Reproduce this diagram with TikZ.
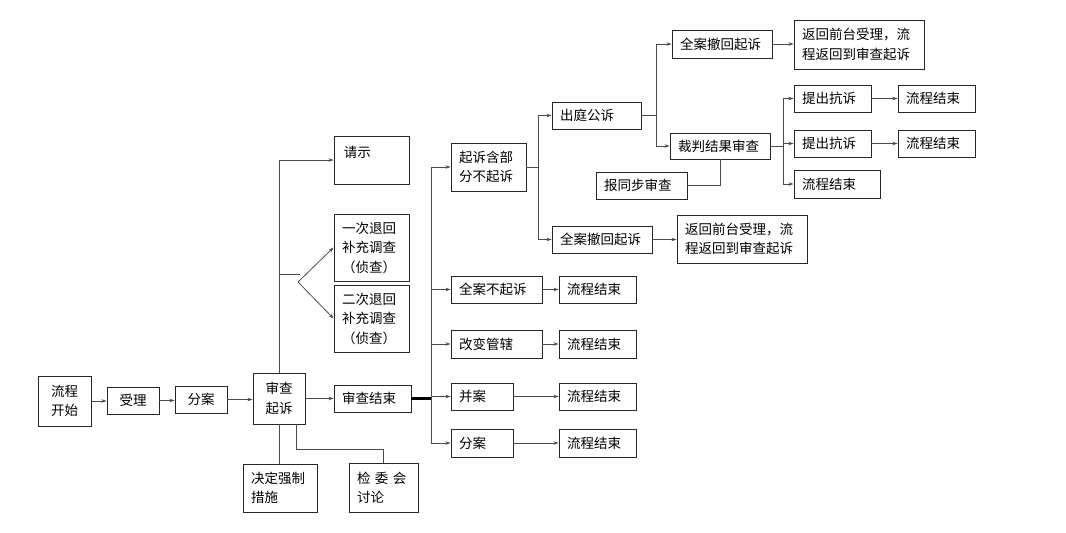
\documentclass[tikz,border=0pt]{standalone}
\usepackage{fontspec}
\setmainfont{Noto Sans CJK SC}
\usetikzlibrary{arrows.meta}
\newcommand\bx[7][]{\node[box,minimum width={(#5-#3)*1pt},minimum height={(#6-#4)*1pt},text width={(#5-#3-16)*1pt},#1] (#2) at ({(#3+#5)/2},{(#4+#6)/2}) {#7};}
\begin{document}
\begin{tikzpicture}[x=1pt,y=-1pt,
  box/.style={draw=black!85, line width=0.9pt, inner xsep=8pt, inner ysep=1pt, align=left, font=\fontsize{13.5}{19.5}\selectfont, anchor=center},
  ln/.style={draw=black!70, line width=0.8pt},
  arr/.style={ln, -{Stealth[length=5pt,width=3.5pt]}},
  lbl/.style={anchor=north west, inner sep=0pt, font=\fontsize{13.5}{19.5}\selectfont},
]
\useasboundingbox (0,0) rectangle (1066,533);
% left chain
\bx[align=center]{ks}{38}{376}{91}{426}{流程\\开始}
\bx[align=center]{sl}{107}{387}{159}{414}{受理}
\bx[align=center]{fa}{175}{386}{227}{413}{分案}
\bx[align=center]{sq}{253}{373}{305}{424}{审查\\起诉}
\bx{sj}{334}{385}{411}{412}{审查结束}
\bx{jd}{243}{464}{317}{512}{决定强制\\措施}
\bx{jw}{349}{463}{418}{512}{检 委 会\\讨论}
% upper-left branch
\node[box,minimum width=75pt,minimum height=48pt] (qs) at (371.5,160) {};
\node[lbl] (qst) at ([xshift=10pt,yshift=-10pt]qs.north west) {请示};
\bx{yc}{334}{214}{409}{281}{一次退回\\补充调查\\（侦查）}
\bx{ec}{334}{285}{409}{352}{二次退回\\补充调查\\（侦查）}
% middle column
\bx{qb}{451}{143}{526}{191}{起诉含部\\分不起诉}
\bx{qbq}{451}{276}{542}{303}{全案不起诉}
\bx{gb}{451}{330}{542}{358}{改变管辖}
\bx{ba}{451}{383}{513}{410}{并案}
\bx{fa2}{451}{429}{513}{457}{分案}
\bx{je4}{559}{276}{636}{303}{流程结束}
\bx{je5}{559}{330}{636}{358}{流程结束}
\bx{je6}{559}{383}{636}{410}{流程结束}
\bx{je7}{559}{429}{636}{457}{流程结束}
% upper right
\bx{tg}{552}{102}{641}{129}{出庭公诉}
\bx{qc2}{552}{226}{652}{253}{全案撤回起诉}
\bx{fh2}{677}{215}{807}{263}{返回前台受理，流\\程返回到审查起诉}
\bx{bt}{596}{172}{687}{199}{报同步审查}
\bx{qc1}{672}{30}{772}{58}{全案撤回起诉}
\bx{fh1}{794}{20}{924}{69}{返回前台受理，流\\程返回到审查起诉}
\bx{cp}{670}{133}{770}{159}{裁判结果审查}
\bx{tk1}{794}{85}{871}{112}{提出抗诉}
\bx{je1}{898}{85}{975}{112}{流程结束}
\bx{tk2}{794}{130}{871}{157}{提出抗诉}
\bx{je2}{898}{130}{975}{157}{流程结束}
\bx{je3}{794}{170}{880}{198}{流程结束}
% connectors: main chain
\draw[arr] (ks.east) -- (sl.west |- ks.east);
\draw[arr] (sl.east) -- (fa.west |- sl.east);
\draw[arr] (fa.east) -- (sq.west |- fa.east);
\draw[arr] (sq.east) -- (sj.west |- sq.east);
% up from 审查起诉
\draw[arr] (sq.north) |- (qs.west);
\coordinate (br) at (300,274);
\coordinate (cv) at (298,282);
\draw[ln] (sq.north |- br) -- (br);
\draw[arr] (cv) -- (yc.west);
\draw[arr] (cv) -- (ec.west);
% down from 审查起诉
\draw[ln] (sq.south) -- (sq.south |- jd.north);
\coordinate (k1) at (296,449);
\draw[ln] (sq.south -| k1) -- (k1) -| (jw.north);
% 审查结束 spine
\coordinate (sp) at (431,398.5);
\draw[black, line width=2.2pt] (sj.east) -- (sp);
\draw[arr] (sp) |- (qb.west);
\draw[arr] (sp) |- (qbq.west);
\draw[arr] (sp) |- (gb.west);
\draw[arr] (sp) |- (ba.west);
\draw[arr] (sp) |- (fa2.west);
\draw[arr] (qbq.east) -- (je4.west);
\draw[arr] (gb.east) -- (je5.west);
\draw[arr] (ba.east) -- (je6.west);
\draw[arr] (fa2.east) -- (je7.west);
% 起诉含部分不起诉 branch
\coordinate (s2) at (538,167);
\draw[ln] (qb.east) -- (s2);
\draw[arr] (s2) |- (tg.west);
\draw[arr] (s2) |- (qc2.west);
\draw[arr] (qc2.east) -- (fh2.west |- qc2.east);
% 出庭公诉 branch
\coordinate (s3) at (656,115.5);
\draw[ln] (tg.east) -- (s3);
\draw[arr] (s3) |- (qc1.west);
\draw[arr] (s3) |- (cp.west);
\draw[arr] (qc1.east) -- (fh1.west |- qc1.east);
\draw[ln] (bt.east) -| (cp.south);
% 裁判结果审查 branch
\coordinate (s4) at (783,146);
\draw[ln] (cp.east) -- (s4);
\draw[arr] (s4) |- (tk1.west);
\draw[arr] (s4) |- (tk2.west);
\draw[arr] (s4) |- (je3.west);
\draw[arr] (tk1.east) -- (je1.west);
\draw[arr] (tk2.east) -- (je2.west);
\end{tikzpicture}
\end{document}
